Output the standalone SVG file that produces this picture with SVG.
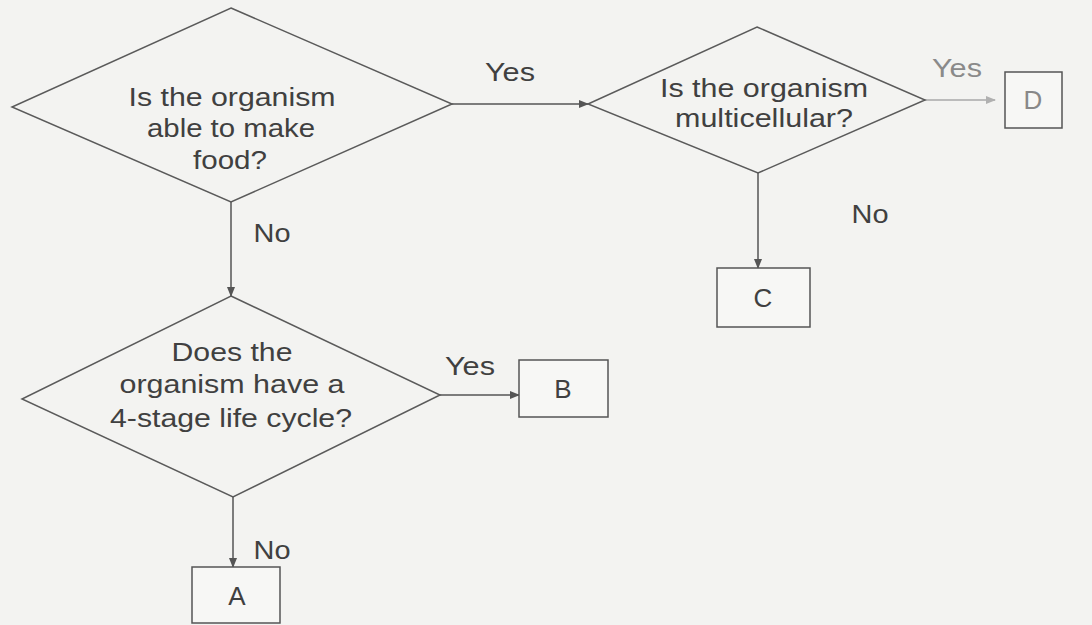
<svg xmlns="http://www.w3.org/2000/svg" width="1092" height="625" viewBox="0 0 1092 625">
  <defs>
    <style>
      .shape { fill: none; stroke: #5a5a5a; stroke-width: 1.5; }
      .box { fill: #f7f7f5; stroke: #555; stroke-width: 1.5; }
      .edge { fill: none; stroke: #555; stroke-width: 1.5; }
      .faint { stroke: #a8a8a8; }
      .t { font-family: "Liberation Sans", Arial, sans-serif; font-size: 26px; fill: #404040; text-anchor: middle; }
      .lbl { font-family: "Liberation Sans", Arial, sans-serif; font-size: 25px; fill: #404040; text-anchor: middle; }
    </style>
    <marker id="arr" markerWidth="10" markerHeight="8" refX="9" refY="4" orient="auto" markerUnits="userSpaceOnUse">
      <path d="M0,0 L10,4 L0,8 Z" fill="#555"/>
    </marker>
    <marker id="arrFaint" markerWidth="10" markerHeight="8" refX="9" refY="4" orient="auto" markerUnits="userSpaceOnUse">
      <path d="M0,0 L10,4 L0,8 Z" fill="#b0b0b0"/>
    </marker>
  </defs>
  <rect width="1092" height="625" fill="#f3f3f1"/>

  <g id="connectors">
    <line class="edge" x1="452" y1="104" x2="588" y2="104" marker-end="url(#arr)"/>
    <line class="edge faint" x1="925" y1="100" x2="995" y2="100" marker-end="url(#arrFaint)"/>
    <line class="edge" x1="758" y1="173" x2="758" y2="268" marker-end="url(#arr)"/>
    <line class="edge" x1="231" y1="202" x2="231" y2="296" marker-end="url(#arr)"/>
    <line class="edge" x1="440" y1="395" x2="519" y2="395" marker-end="url(#arr)"/>
    <line class="edge" x1="233" y1="497" x2="233" y2="567" marker-end="url(#arr)"/>
    <text class="lbl" x="510" y="81" textLength="50" lengthAdjust="spacingAndGlyphs">Yes</text>
    <text class="lbl" x="957" y="77" textLength="50" lengthAdjust="spacingAndGlyphs" fill="#8a8a8a" style="fill:#8a8a8a">Yes</text>
    <text class="lbl" x="870" y="223" textLength="37" lengthAdjust="spacingAndGlyphs">No</text>
    <text class="lbl" x="272" y="242" textLength="37" lengthAdjust="spacingAndGlyphs">No</text>
    <text class="lbl" x="470" y="375" textLength="50" lengthAdjust="spacingAndGlyphs">Yes</text>
    <text class="lbl" x="272" y="559" textLength="37" lengthAdjust="spacingAndGlyphs">No</text>
  </g>

  <g id="q1">
    <polygon class="shape" points="231,8 452,104 231,202 12,107"/>
    <text class="t" x="232" y="106" textLength="207" lengthAdjust="spacingAndGlyphs">Is the organism</text>
    <text class="t" x="231" y="137" textLength="168" lengthAdjust="spacingAndGlyphs">able to make</text>
    <text class="t" x="230" y="169" textLength="74" lengthAdjust="spacingAndGlyphs">food?</text>
  </g>

  <g id="q2">
    <polygon class="shape" points="757,27 925,100 758,173 588,104"/>
    <text class="t" x="764" y="97" textLength="208" lengthAdjust="spacingAndGlyphs">Is the organism</text>
    <text class="t" x="764" y="127" textLength="178" lengthAdjust="spacingAndGlyphs">multicellular?</text>
  </g>

  <g id="q3">
    <polygon class="shape" points="231,296 440,395 233,497 22,399"/>
    <text class="t" x="232" y="361" textLength="121" lengthAdjust="spacingAndGlyphs">Does the</text>
    <text class="t" x="232" y="393" textLength="225" lengthAdjust="spacingAndGlyphs">organism have a</text>
    <text class="t" x="231" y="427" textLength="242" lengthAdjust="spacingAndGlyphs">4-stage life cycle?</text>
  </g>

  <g id="D">
    <rect class="box" x="1005" y="72" width="57" height="56"/>
    <text class="t" x="1033" y="109" fill="#888" style="fill:#888">D</text>
  </g>

  <g id="C">
    <rect class="box" x="717" y="268" width="93" height="59"/>
    <text class="t" x="763" y="307">C</text>
  </g>

  <g id="B">
    <rect class="box" x="519" y="360" width="89" height="57"/>
    <text class="t" x="563" y="398">B</text>
  </g>

  <g id="A">
    <rect class="box" x="192" y="567" width="88" height="56"/>
    <text class="t" x="237" y="605">A</text>
  </g>
</svg>
